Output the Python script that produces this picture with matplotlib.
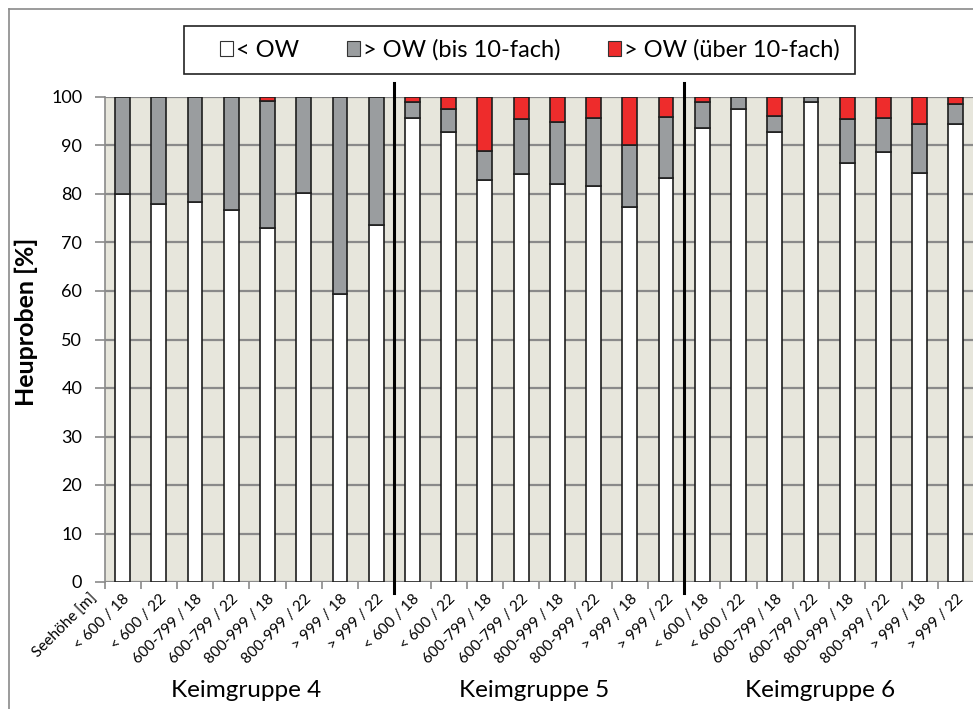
import matplotlib
matplotlib.use("Agg")
import matplotlib.pyplot as plt
from matplotlib.lines import Line2D
from matplotlib.patches import Patch, Rectangle
import numpy as np

plt.rcParams['font.family'] = ['Lato', 'DejaVu Sans']

# categories (altitude / year) repeated for the three germ groups
categories = ['< 600 / 18', '< 600 / 22', '600-799 / 18', '600-799 / 22',
              '800-999 / 18', '800-999 / 22', '> 999 / 18', '> 999 / 22']
groups = ['Keimgruppe 4', 'Keimgruppe 5', 'Keimgruppe 6']
series_names = ['< OW', '> OW (bis 10-fach)', '> OW (über 10-fach)']

# percentages
white = [80.0, 78.0, 78.3, 76.8, 73.0, 80.2, 59.4, 73.6,
         95.7, 92.7, 82.9, 84.2, 82.0, 81.6, 77.3, 83.3,
         93.7, 97.5, 92.8, 99.0, 86.4, 88.7, 84.4, 94.4]
grey = [20.0, 22.0, 21.7, 23.2, 26.2, 19.8, 40.6, 26.4,
        3.2, 4.8, 5.9, 11.2, 12.8, 14.1, 12.9, 12.5,
        5.2, 2.5, 3.2, 1.0, 9.1, 7.0, 10.0, 4.2]
red = [0.0, 0.0, 0.0, 0.0, 0.8, 0.0, 0.0, 0.0,
       1.1, 2.5, 11.2, 4.6, 5.2, 4.3, 9.8, 4.2,
       1.1, 0.0, 4.0, 0.0, 4.5, 4.3, 5.6, 1.4]

colors = ['#ffffff', '#9a9d9f', '#ee2c2c']
W, H = 973, 709

fig = plt.figure(figsize=(W / 100, H / 100), dpi=100)
ax = fig.add_axes([104.5 / W, 1 - 582 / H, (974 - 104.5) / W, (582 - 97) / H])
ax.set_facecolor('#e7e6dc')

labels = categories * len(groups)
x = np.arange(len(labels))
white = np.array(white)
grey = np.array(grey)
red = np.array(red)

bw = 0.41
ax.bar(x, white, bw, color=colors[0], edgecolor='#1e1e1e', linewidth=1.2, zorder=3)
ax.bar(x, grey, bw, bottom=white, color=colors[1], edgecolor='#1e1e1e', linewidth=1.2, zorder=3)
mask = red > 0
ax.bar(x[mask], red[mask], bw, bottom=(white + grey)[mask], color=colors[2],
       edgecolor='#1e1e1e', linewidth=1.2, zorder=3)

ax.set_xlim(-0.5, len(labels) - 0.5)
ax.set_ylim(0, 100)
ax.set_yticks(np.arange(0, 101, 10))
ax.yaxis.grid(True, color='#8a8a8a', linewidth=1.6, zorder=1)
ax.set_axisbelow(True)

for s in ['top', 'right', 'bottom']:
    ax.spines[s].set_visible(False)
ax.spines['left'].set_color('#8a8a8a')
ax.spines['left'].set_linewidth(1.2)

ax.tick_params(axis='y', length=7, width=1.2, color='#8a8a8a', labelsize=13, pad=9)
ax.set_xticks(x)
ax.set_xticklabels(labels, rotation=45, ha='right', rotation_mode='anchor', fontsize=11)
ax.tick_params(axis='x', which='major', length=0, pad=7)
ax.set_xticks(np.arange(-0.5, len(labels), 1), minor=True)
ax.tick_params(axis='x', which='minor', length=5, width=1.2, color='#8a8a8a')

ax.set_ylabel('Heuproben [%]', fontsize=18, fontweight='bold')
ax.yaxis.set_label_coords(-0.0765, 0.536)

trans = ax.get_xaxis_transform()
ax.text(-0.9, -0.02, 'Seehöhe [m]', rotation=45, ha='right', va='top',
        rotation_mode='anchor', fontsize=11, transform=trans)

# group separators and group names
for b in [7.5, 15.5]:
    ax.add_line(Line2D([b, b], [-0.023, 1.029], transform=trans, color='black',
                       linewidth=2.2, clip_on=False, zorder=5))
for gx, g in zip([3.4, 11.35, 19.25], groups):
    ax.text(gx, -0.223, g, ha='center', va='center', fontsize=17.5, transform=trans)

handles = [Patch(facecolor=c, edgecolor='#333333', linewidth=0.8) for c in colors]
leg = fig.legend(handles, series_names, loc='center', ncol=3,
                 bbox_to_anchor=(530 / W, 1 - 50 / H), fontsize=17,
                 frameon=False, handlelength=0.55, handleheight=0.55,
                 handletextpad=0.15, columnspacing=2.0, borderaxespad=0)
fig.add_artist(Rectangle((184 / W, 1 - 74 / H), (855 - 184) / W, 48 / H,
                         transform=fig.transFigure, facecolor='none',
                         edgecolor='#222222', linewidth=1.2))

# outer chart frame
fig.add_artist(Line2D([9 / W, 9 / W], [0, 1 - 9 / H], transform=fig.transFigure,
                      color='#8a8a8a', linewidth=1.2))
fig.add_artist(Line2D([9 / W, 1], [1 - 9 / H, 1 - 9 / H], transform=fig.transFigure,
                      color='#8a8a8a', linewidth=1.2))

fig.savefig('out.png', dpi=100)
